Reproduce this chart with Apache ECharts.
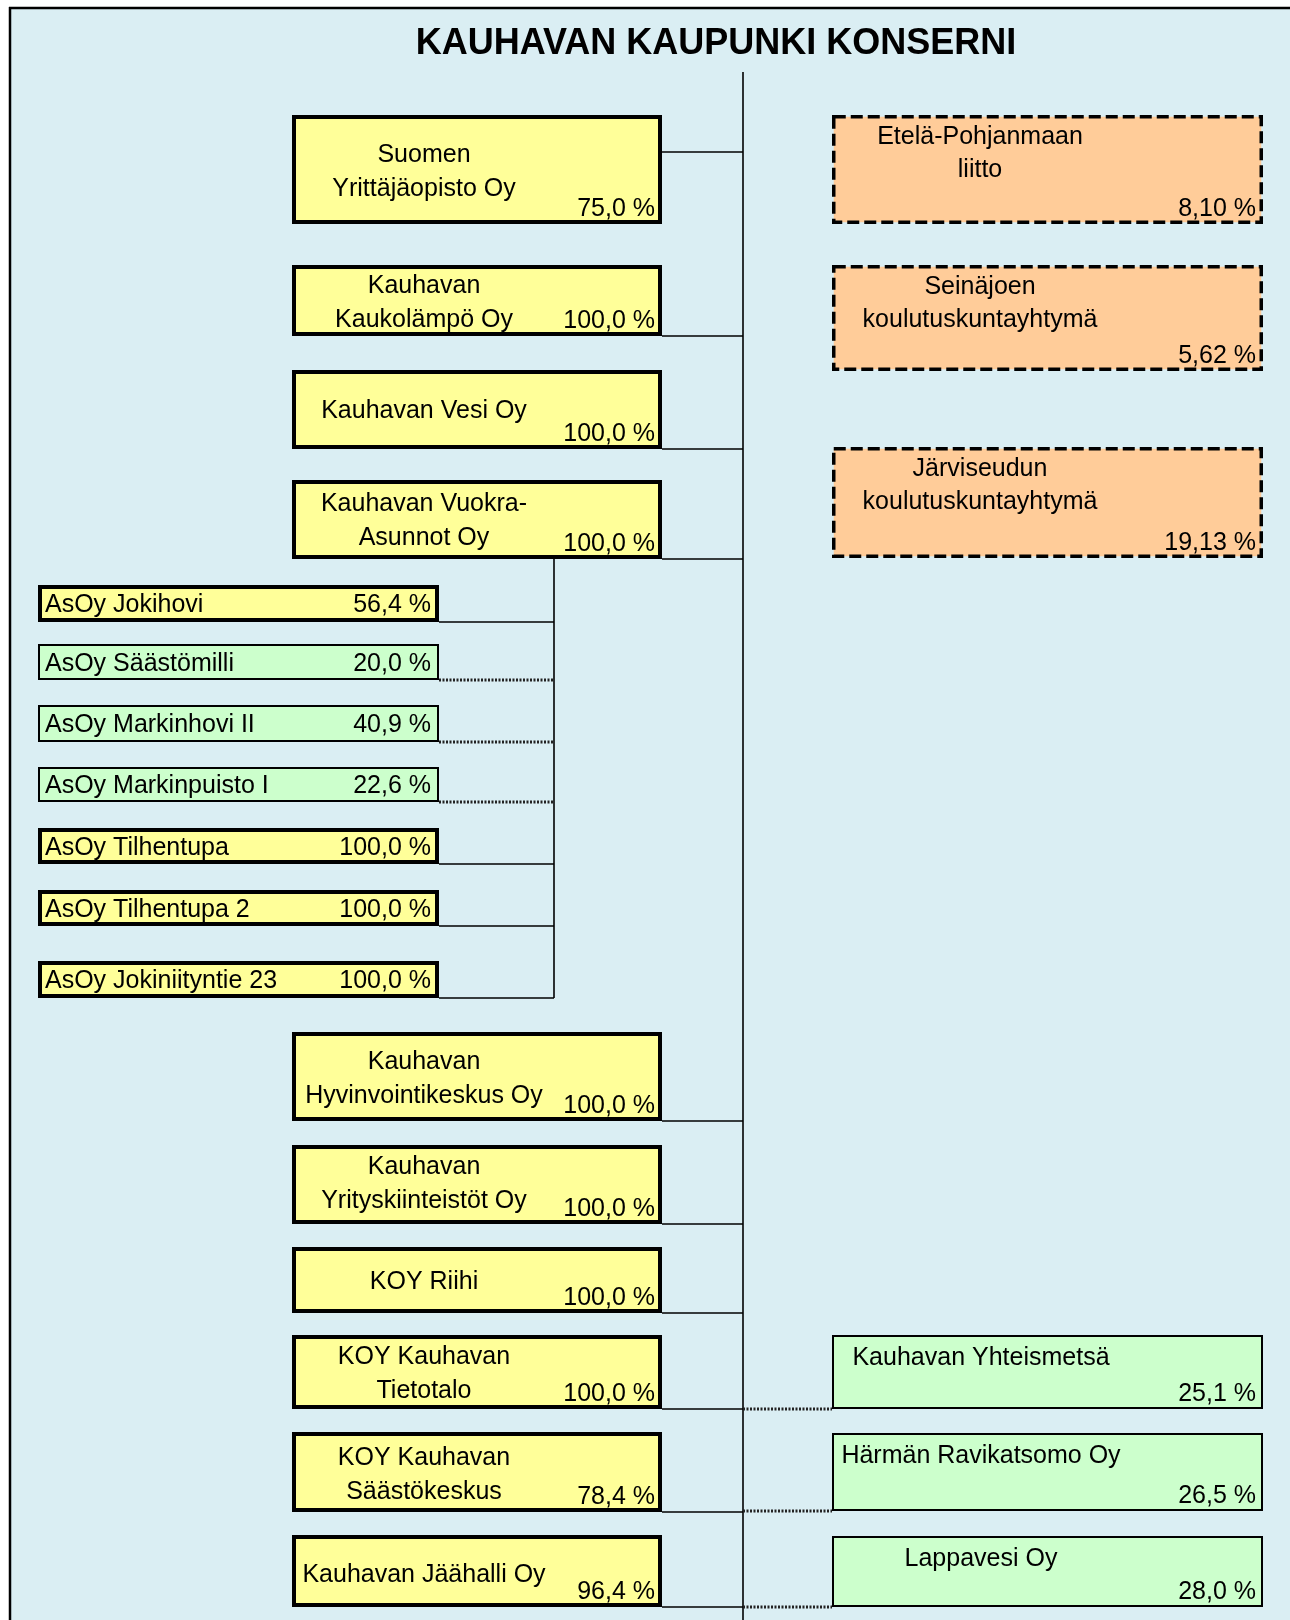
<!DOCTYPE html>
<html>
<head>
<meta charset="utf-8">
<script src="https://cdn.jsdelivr.net/npm/echarts@6/dist/echarts.min.js"></script>
<style>
  html, body { margin: 0; padding: 0; background: #fff; }
  #chart { width: 1290px; height: 1620px; }
</style>
</head>
<body>
<div id="chart"></div>
<script>
// tytäryhtiöt ja omistusosuudet (%)
const parentNames = [
  ["Suomen", "Yrittäjäopisto Oy"],
  ["Kauhavan", "Kaukolämpö Oy"],
  ["Kauhavan Vesi Oy"],
  ["Kauhavan Vuokra-", "Asunnot Oy"],
  ["Kauhavan", "Hyvinvointikeskus Oy"],
  ["Kauhavan", "Yrityskiinteistöt Oy"],
  ["KOY Riihi"],
  ["KOY Kauhavan", "Tietotalo"],
  ["KOY Kauhavan", "Säästökeskus"],
  ["Kauhavan Jäähalli Oy"],
];
const parentShares = [75.0, 100.0, 100.0, 100.0, 100.0, 100.0, 100.0, 100.0, 78.4, 96.4];

// Vuokra-Asuntojen asunto-osakeyhtiöt
const housingNames = [
  "AsOy Jokihovi", "AsOy Säästömilli", "AsOy Markinhovi II", "AsOy Markinpuisto I",
  "AsOy Tilhentupa", "AsOy Tilhentupa 2", "AsOy Jokiniityntie 23",
];
const housingShares = [56.4, 20.0, 40.9, 22.6, 100.0, 100.0, 100.0];
const housingIsSubsidiary = [true, false, false, false, true, true, true];

// kuntayhtymät
const municipalNames = [
  ["Etelä-Pohjanmaan", "liitto"],
  ["Seinäjoen", "koulutuskuntayhtymä"],
  ["Järviseudun", "koulutuskuntayhtymä"],
];
const municipalShares = [8.10, 5.62, 19.13];

// osakkuusyhtiöt
const associateNames = ["Kauhavan Yhteismetsä", "Härmän Ravikatsomo Oy", "Lappavesi Oy"];
const associateShares = [25.1, 26.5, 28.0];

// sijoittelu, akselit kulkevat 0..1290 ja 0..1620
const trunkX = 743, subTrunkX = 554;
const parentX = [292, 662], housingX = [38, 439], rightX = [832, 1263];
const parentRows = [[115, 224], [265, 336], [370, 449], [480, 559], [1032, 1121],
  [1145, 1224], [1247, 1313], [1335, 1409], [1432, 1512], [1535, 1607]];
const parentTextTop = [40, 21, 41, 24, 30, 22, 35, 22, 26, 40];
const parentLinkY = [152, 336, 449, 559, 1121, 1224, 1313, 1409, 1512, 1607];
const housingRows = [[585, 622], [644, 680], [705, 742], [767, 802], [828, 864], [890, 926], [961, 998]];
const municipalRows = [[115, 224], [265, 371], [447, 558]];
const associateRows = [[1335, 1409], [1433, 1511], [1536, 1607]];

const FONT = '25px "Liberation Sans", Arial, sans-serif';

function pct(v, d) {
  return v.toFixed(d).replace(".", ",") + " %";
}

function rowsToData(rows, xr) {
  return rows.map(r => [xr[0], r[0], xr[1], r[1]]);
}

// laatikko + tekstit
function boxRender(fill, border, dash, texts) {
  return function (params, api) {
    const i = params.dataIndex;
    const p0 = api.coord([api.value(0), api.value(1)]);
    const p1 = api.coord([api.value(2), api.value(3)]);
    const children = [{
      type: "rect",
      shape: { x: p0[0] + border / 2, y: p0[1] + border / 2, width: p1[0] - p0[0] - border, height: p1[1] - p0[1] - border },
      style: { fill: fill, stroke: "#000", lineWidth: border, lineDash: dash }
    }];
    texts(i, p0, p1).forEach(t => {
      children.push({
        type: "text",
        style: { text: t.text, x: t.x, y: t.y, align: t.align, verticalAlign: "middle", font: FONT, fill: "#000" }
      });
    });
    return { type: "group", children: children };
  };
}

// yhdysviivat
const links = [];
links.push([trunkX, 72, trunkX, 1620, 0]);
links.push([subTrunkX, 559, subTrunkX, 998, 0]);
parentLinkY.forEach(y => links.push([parentX[1], y, trunkX, y, 0]));
housingRows.forEach((r, i) => links.push([housingX[1], r[1], subTrunkX, r[1], housingIsSubsidiary[i] ? 0 : 1]));
associateRows.forEach(r => links.push([trunkX, r[1], rightX[0], r[1], 1]));

const chart = echarts.init(document.getElementById("chart"));
chart.setOption({
  animation: false,
  backgroundColor: "#fff",
  title: {
    text: "KAUHAVAN KAUPUNKI KONSERNI",
    left: 711,
    top: 21,
    textAlign: "center",
    textStyle: { fontFamily: "Liberation Sans", fontSize: 36, fontWeight: "bold", color: "#000" }
  },
  graphic: [
    { type: "rect", shape: { x: 10, y: 7, width: 1280, height: 1613 }, style: { fill: "#daeef3" }, z: -10 },
    { type: "line", shape: { x1: 9, y1: 8, x2: 1290, y2: 8 }, style: { stroke: "#000", lineWidth: 2.5 }, z: -9 },
    { type: "line", shape: { x1: 10, y1: 7, x2: 10, y2: 1620 }, style: { stroke: "#000", lineWidth: 2.5 }, z: -9 }
  ],
  grid: { left: 0, right: 0, top: 0, bottom: 0 },
  xAxis: { type: "value", min: 0, max: 1290, show: false },
  yAxis: { type: "value", min: 0, max: 1620, inverse: true, show: false },
  series: [
    {
      type: "custom",
      name: "yhteydet",
      z: 1,
      data: links,
      renderItem(params, api) {
        const a = api.coord([api.value(0), api.value(1)]);
        const b = api.coord([api.value(2), api.value(3)]);
        const hatched = api.value(4) === 1;
        return {
          type: "line",
          shape: { x1: a[0], y1: a[1], x2: b[0], y2: b[1] },
          style: hatched
            ? { stroke: "#222", lineWidth: 3, lineDash: [2, 1.5] }
            : { stroke: "#000", lineWidth: 1.6 }
        };
      }
    },
    {
      type: "custom",
      name: "tytäryhtiöt",
      z: 3,
      data: rowsToData(parentRows, parentX),
      renderItem: boxRender("#ffff99", 4, null, (i, p0, p1) => {
        const out = parentNames[i].map((t, k) => ({ text: t, x: p0[0] + 132, y: p0[1] + parentTextTop[i] + k * 34, align: "center" }));
        out.push({ text: pct(parentShares[i], 1), x: p1[0] - 7, y: p1[1] - 15, align: "right" });
        return out;
      })
    },
    {
      type: "custom",
      name: "asunto-osakeyhtiöt",
      z: 3,
      data: rowsToData(housingRows, housingX),
      renderItem(params, api) {
        const i = params.dataIndex;
        const sub = housingIsSubsidiary[i];
        return boxRender(sub ? "#ffff99" : "#ccffcc", sub ? 4 : 2, null, (j, p0, p1) => [
          { text: housingNames[j], x: p0[0] + 7, y: (p0[1] + p1[1]) / 2 + 2, align: "left" },
          { text: pct(housingShares[j], 1), x: p1[0] - 8, y: (p0[1] + p1[1]) / 2 + 2, align: "right" }
        ])(params, api);
      }
    },
    {
      type: "custom",
      name: "kuntayhtymät",
      z: 3,
      data: rowsToData(municipalRows, rightX),
      renderItem: boxRender("#ffcc99", 3.5, [12, 5], (i, p0, p1) => {
        const out = municipalNames[i].map((t, k) => ({ text: t, x: p0[0] + 148, y: p0[1] + 22 + k * 33, align: "center" }));
        out.push({ text: pct(municipalShares[i], 2), x: p1[0] - 7, y: p1[1] - 15, align: "right" });
        return out;
      })
    },
    {
      type: "custom",
      name: "osakkuusyhtiöt",
      z: 3,
      data: rowsToData(associateRows, rightX),
      renderItem: boxRender("#ccffcc", 2, null, (i, p0, p1) => [
        { text: associateNames[i], x: p0[0] + 149, y: p0[1] + 23, align: "center" },
        { text: pct(associateShares[i], 1), x: p1[0] - 7, y: p1[1] - 15, align: "right" }
      ])
    }
  ]
});
</script>
</body>
</html>
